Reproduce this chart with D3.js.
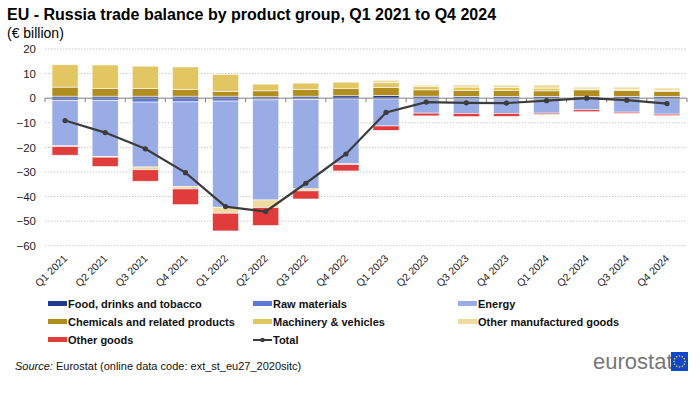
<!DOCTYPE html>
<html>
<head>
<meta charset="utf-8">
<script src="https://cdn.jsdelivr.net/npm/d3@7"></script>
<style>
  body { margin: 0; background: #fff; }
  svg { font-family: "Liberation Sans", Arial, sans-serif; }
</style>
</head>
<body>
<svg id="chart" width="700" height="399"></svg>
<script>
// ---------- DATA ---------- //
const quarters = ["Q1 2021", "Q2 2021", "Q3 2021", "Q4 2021", "Q1 2022", "Q2 2022", "Q3 2022", "Q4 2022",
                  "Q1 2023", "Q2 2023", "Q3 2023", "Q4 2023", "Q1 2024", "Q2 2024", "Q3 2024", "Q4 2024"];

const food      = [0.8, 0.8, 0.8, 0.8, 0.8, 0.6, 0.8, 1.0, 1.1, 0.8, 0.7, 0.7, 0.7, 0.7, 0.7, 0.7];
const rawMat    = [-1.0, -1.0, -1.6, -1.5, -1.2, -0.7, -0.5, -0.3, -0.3, -0.2, -0.2, -0.2, -0.2, -0.2, -0.2, -0.2];
const energy    = [-18.4, -22.7, -26.4, -34.5, -43.2, -40.7, -36.4, -26.4, -11.0, -5.9, -6.0, -6.0, -5.9, -4.5, -5.5, -6.3];
const chemicals = [3.7, 3.1, 3.1, 2.7, 2.0, 2.4, 2.7, 3.0, 3.3, 2.6, 2.4, 2.4, 2.3, 2.7, 2.4, 2.1];
const machinery = [9.1, 9.6, 9.1, 9.2, 6.8, 2.7, 2.6, 2.5, 1.9, 1.3, 1.4, 1.2, 1.1, 0.3, 0.5, 0.4];
const otherManuf = [-0.3, -0.3, -1.1, -0.9, -2.4, -3.1, -0.8, -0.3, 1.0, 0.6, 0.9, 1.0, 1.3, 0.8, 0.9, 0.9];
const otherGoods = [-3.5, -3.8, -4.7, -6.4, -7.2, -7.3, -3.3, -2.6, -1.8, -1.1, -1.3, -1.2, -0.5, -0.8, -0.5, -0.6];
const total     = [-9.1, -14.0, -20.6, -30.3, -44.1, -46.1, -34.6, -22.7, -5.8, -1.6, -1.9, -2.0, -1.0, 0.0, -0.8, -2.2];

const seriesNames = ["Food, drinks and tobacco", "Raw materials", "Energy", "Chemicals and related products",
                     "Machinery & vehicles", "Other manufactured goods", "Other goods"];
const seriesValues = [food, rawMat, energy, chemicals, machinery, otherManuf, otherGoods];
const seriesColors = ["#1f3a93", "#5b78d8", "#9aace6", "#b08d1e", "#e2c662", "#eedb9f", "#e03c3c"];
const yTicks = [20, 10, 0, -10, -20, -30, -40, -50, -60];

// ---------- CHART ---------- //
const svg = d3.select("#chart");

const table = quarters.map((q, i) => {
  const row = {q: q};
  seriesNames.forEach((s, j) => row[s] = seriesValues[j][i]);
  return row;
});

const stacked = d3.stack()
  .keys(seriesNames)
  .offset(d3.stackOffsetDiverging)(table);

const x = d3.scaleBand()
  .domain(quarters)
  .range([45, 687])
  .paddingInner(0.35)
  .paddingOuter(0.175);

const y = d3.scaleLinear()
  .domain([-60, 20])
  .range([245.7, 49]);

// title
svg.append("text")
  .attr("x", 7).attr("y", 20)
  .attr("font-size", 16).attr("font-weight", "bold").attr("fill", "#000")
  .text("EU - Russia trade balance by product group, Q1 2021 to Q4 2024");
svg.append("text")
  .attr("x", 7).attr("y", 38)
  .attr("font-size", 14).attr("fill", "#000")
  .text("(€ billion)");

// grid
svg.append("g")
  .selectAll("line")
  .data(yTicks.filter(d => d !== 0))
  .join("line")
  .attr("x1", 45).attr("x2", 687)
  .attr("y1", d => y(d)).attr("y2", d => y(d))
  .attr("stroke", "#c8c8c8")
  .attr("stroke-width", 1)
  .attr("stroke-dasharray", "1.5,1.5");

// y axis labels
const yAxis = d3.axisLeft(y).tickValues(yTicks).tickSize(0).tickPadding(0);
svg.append("g")
  .attr("transform", "translate(36,0)")
  .call(yAxis)
  .call(g => g.select(".domain").remove())
  .call(g => g.selectAll("text")
    .attr("font-size", 11.5)
    .attr("font-family", "'Liberation Sans', Arial, sans-serif")
    .attr("fill", "#222"));

// bars
svg.append("g")
  .selectAll("g")
  .data(stacked)
  .join("g")
  .attr("fill", (d, i) => seriesColors[i])
  .selectAll("rect")
  .data(d => d)
  .join("rect")
  .attr("x", d => x(d.data.q))
  .attr("width", x.bandwidth())
  .attr("y", d => y(Math.max(d[0], d[1])))
  .attr("height", d => Math.abs(y(d[0]) - y(d[1])))
  .attr("stroke", "#fff")
  .attr("stroke-opacity", 0.7)
  .attr("stroke-width", 0.8);

// zero axis with category ticks
const zero = svg.append("g");
zero.append("line")
  .attr("x1", 45).attr("x2", 687)
  .attr("y1", y(0)).attr("y2", y(0))
  .attr("stroke", "#7f7f7f").attr("stroke-width", 1);
zero.selectAll("line.tick")
  .data(quarters.concat(["end"]))
  .join("line")
  .attr("class", "tick")
  .attr("x1", (d, i) => 45 + i * x.step())
  .attr("x2", (d, i) => 45 + i * x.step())
  .attr("y1", y(0)).attr("y2", y(0) + 4)
  .attr("stroke", "#7f7f7f");

// x labels
svg.append("g")
  .selectAll("text")
  .data(quarters)
  .join("text")
  .attr("transform", d => "translate(" + (x(d) + x.bandwidth() / 2 + 3) + ",259) rotate(-45)")
  .attr("text-anchor", "end")
  .attr("font-size", 10.5)
  .attr("fill", "#222")
  .text(d => d);

// total line
const line = d3.line()
  .x((d, i) => x(quarters[i]) + x.bandwidth() / 2)
  .y(d => y(d));
svg.append("path")
  .datum(total)
  .attr("d", line)
  .attr("fill", "none")
  .attr("stroke", "#3c3c3c")
  .attr("stroke-width", 2.2);
svg.append("g")
  .selectAll("circle")
  .data(total)
  .join("circle")
  .attr("cx", (d, i) => x(quarters[i]) + x.bandwidth() / 2)
  .attr("cy", d => y(d))
  .attr("r", 2.6)
  .attr("fill", "#3c3c3c");

// legend
const legendItems = seriesNames.map((s, i) => ({name: s, color: seriesColors[i], type: "bar"}))
  .concat([{name: "Total", color: "#3c3c3c", type: "line"}]);
const colX = [48, 253, 458];
const rowY = [304, 322, 340];

const legend = svg.append("g")
  .selectAll("g")
  .data(legendItems)
  .join("g")
  .attr("transform", (d, i) => "translate(" + colX[i % 3] + "," + rowY[Math.floor(i / 3)] + ")");

legend.filter(d => d.type === "bar")
  .append("rect")
  .attr("x", 0).attr("y", -3)
  .attr("width", 19).attr("height", 5)
  .attr("fill", d => d.color);
legend.filter(d => d.type === "line")
  .append("line")
  .attr("x1", 0).attr("x2", 19)
  .attr("y1", 0).attr("y2", 0)
  .attr("stroke", d => d.color).attr("stroke-width", 2);
legend.filter(d => d.type === "line")
  .append("circle")
  .attr("cx", 9.5).attr("cy", 0).attr("r", 2.3)
  .attr("fill", d => d.color);
legend.append("text")
  .attr("x", 20).attr("y", 4)
  .attr("font-size", 11).attr("font-weight", "bold").attr("fill", "#111")
  .text(d => d.name);

// source
const src = svg.append("text")
  .attr("x", 15).attr("y", 370)
  .attr("font-size", 11).attr("fill", "#111");
src.append("tspan").attr("font-style", "italic").text("Source:");
src.append("tspan").text(" Eurostat (online data code: ext_st_eu27_2020sitc)");

// eurostat logo
const logo = svg.append("g").attr("transform", "translate(593,352)");
logo.append("text")
  .attr("x", 0).attr("y", 17)
  .attr("font-size", 22).attr("fill", "#777")
  .attr("font-family", "'Liberation Sans Narrow', 'Liberation Sans', Arial, sans-serif")
  .text("eurostat");
logo.append("rect")
  .attr("x", 78).attr("y", 0).attr("width", 17).attr("height", 19)
  .attr("fill", "#0e47cb");
d3.range(12).forEach(k => {
  const a = k / 12 * 2 * Math.PI;
  logo.append("circle")
    .attr("cx", 86.5 + 5.5 * Math.cos(a))
    .attr("cy", 9.5 + 5.5 * Math.sin(a))
    .attr("r", 0.8)
    .attr("fill", "#ffd617");
});
</script>
</body>
</html>
